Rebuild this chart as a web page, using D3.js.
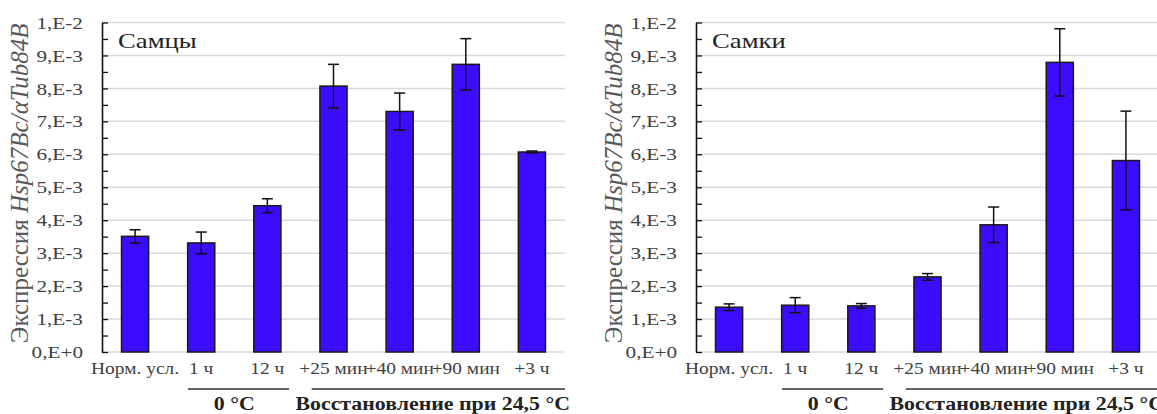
<!DOCTYPE html>
<html>
<head>
<meta charset="utf-8">
<script src="https://cdn.jsdelivr.net/npm/d3@7"></script>
<style>
  body { margin: 0; background: #fff; }
</style>
</head>
<body>
<div id="chart"></div>
<script>
// data (values in units of 1E-3)
const categories = ["Норм. усл.", "1 ч", "12 ч", "+25 мин", "+40 мин", "+90 мин", "+3 ч"];
const males = [3.51, 3.31, 4.44, 8.07, 7.30, 8.73, 6.07];
const malesErr = [0.20, 0.33, 0.21, 0.66, 0.56, 0.78, 0.03];
const females = [1.36, 1.42, 1.40, 2.28, 3.86, 8.79, 5.81];
const femalesErr = [0.10, 0.23, 0.07, 0.10, 0.54, 1.02, 1.50];
const yTickValues = [0, 1, 2, 3, 4, 5, 6, 7, 8, 9, 10];
const yTickLabels = ["0,E+0", "1,E-3", "2,E-3", "3,E-3", "4,E-3", "5,E-3", "6,E-3", "7,E-3", "8,E-3", "9,E-3", "1,E-2"];
const groupLabels = ["0 °C", "Восстановление при 24,5 °C"];
const groupFirst = [1, 3];
const groupLast = [2, 6];

const W = 1157, H = 414;
const plotW = 463, plotH = 329.5, plotTop = 22.5;
const barColor = "#3c0cff";
const FONT = "'Liberation Serif', 'Times New Roman', 'DejaVu Serif', 'Noto Serif', serif";

const svg = d3.select("#chart").append("svg")
  .attr("width", W)
  .attr("height", H)
  .style("font-family", FONT);

// calibrate: "Норм. усл." at 16px is about 88px wide in the picture
const probe = svg.append("text").style("font-family", FONT).style("font-size", "16px").text("Норм. усл.");
const stretch = 88 / probe.node().getComputedTextLength();
probe.remove();

function panel(left, title, values, errs) {
  const g = svg.append("g").attr("transform", "translate(" + left + "," + plotTop + ")");

  const x = d3.scaleBand().domain(categories).range([0, plotW])
    .paddingInner(0.59).paddingOuter(0.295);
  const y = d3.scaleLinear().domain([0, 10]).range([plotH, 0]);
  const step = x.step();

  // gridlines
  g.append("g")
    .selectAll("line")
    .data(yTickValues)
    .join("line")
    .attr("x1", 0).attr("x2", plotW)
    .attr("y1", d => y(d)).attr("y2", d => y(d))
    .attr("stroke", "#d9d9d9")
    .attr("stroke-width", 1.5);

  // minor ticks
  const minor = g.append("g")
    .call(d3.axisLeft(y).tickValues(d3.range(0.5, 10, 1)).tickSize(-6).tickFormat(""));
  minor.select(".domain").remove();
  minor.selectAll(".tick line").attr("stroke", "#111").attr("stroke-width", 1.3);

  // y axis
  const yAxis = g.append("g")
    .call(d3.axisLeft(y).tickValues(yTickValues).tickSizeInner(-6).tickSizeOuter(0)
      .tickPadding(19).tickFormat((d, i) => yTickLabels[i]));
  yAxis.attr("font-family", null).attr("font-size", null);
  yAxis.select(".domain").attr("stroke", "#111").attr("stroke-width", 1.6);
  yAxis.selectAll(".tick line").attr("stroke", "#111").attr("stroke-width", 1.3);
  yAxis.selectAll(".tick text")
    .attr("class", "stretch")
    .style("font-family", FONT)
    .style("font-size", "17.5px")
    .attr("fill", "#404040");

  // bars
  g.append("g")
    .selectAll("rect")
    .data(values)
    .join("rect")
    .attr("x", (d, i) => x(categories[i]))
    .attr("y", d => y(d))
    .attr("width", x.bandwidth())
    .attr("height", d => y(0) - y(d))
    .attr("fill", barColor)
    .attr("stroke", "#1a1a1a")
    .attr("stroke-width", 1.5);

  // error bars
  const eb = g.append("g").attr("stroke", "#111").attr("stroke-width", 1.5);
  values.forEach((v, i) => {
    const cx = x(categories[i]) + x.bandwidth() / 2;
    const e = errs[i];
    eb.append("line").attr("x1", cx).attr("x2", cx).attr("y1", y(v + e)).attr("y2", y(v - e));
    eb.append("line").attr("x1", cx - 5.5).attr("x2", cx + 5.5).attr("y1", y(v + e)).attr("y2", y(v + e));
    eb.append("line").attr("x1", cx - 5.5).attr("x2", cx + 5.5).attr("y1", y(v - e)).attr("y2", y(v - e));
  });

  // category labels
  g.append("g")
    .selectAll("text")
    .data(categories)
    .join("text")
    .attr("class", "stretch")
    .attr("x", d => x(d) + x.bandwidth() / 2)
    .attr("y", plotH + 21.5)
    .attr("text-anchor", "middle")
    .style("font-family", FONT)
    .style("font-size", "16px")
    .attr("fill", "#404040")
    .text(d => d);

  // group lines and labels
  groupLabels.forEach((label, k) => {
    const a = groupFirst[k], b = groupLast[k];
    const x0 = a * step + (k === 0 ? step * 0.3 : step * 0.17);
    const x1 = (b + 1) * step - (k === 0 ? step * 0.17 : 0);
    g.append("line")
      .attr("x1", x0).attr("x2", x1)
      .attr("y1", plotH + 37).attr("y2", plotH + 37)
      .attr("stroke", "#333").attr("stroke-width", 1.5);
    g.append("text")
      .attr("class", "stretch")
      .attr("x", (a * step + (b + 1) * step) / 2)
      .attr("y", plotH + 58)
      .attr("text-anchor", "middle")
      .style("font-family", FONT)
      .style("font-size", "18px")
      .style("font-weight", "bold")
      .attr("fill", "#222")
      .text(label);
  });

  // panel title
  g.append("text")
    .attr("class", "stretch")
    .attr("x", 16)
    .attr("y", 25.5)
    .style("font-family", FONT)
    .style("font-size", "22px")
    .attr("fill", "#222")
    .text(title);

  // y axis title, sized so it runs about 320px
  const yt = g.append("text")
    .attr("transform", "translate(-74," + (plotH / 2 - 4) + ") rotate(-90)")
    .attr("text-anchor", "middle")
    .style("font-family", FONT)
    .style("font-size", "22px")
    .attr("fill", "#595959");
  yt.append("tspan").text("Экспрессия ");
  yt.append("tspan").style("font-style", "italic").text("Hsp67Bc/αTub84B");
  const len = yt.node().getComputedTextLength();
  yt.style("font-size", (22 * 320 / len) + "px");
}

panel(102, "Самцы", males, malesErr);
panel(696, "Самки", females, femalesErr);

// the source picture is wider than normal type, so widen horizontal text
svg.selectAll("text.stretch").each(function () {
  const len = this.getComputedTextLength();
  d3.select(this).attr("textLength", len * stretch).attr("lengthAdjust", "spacingAndGlyphs");
});
</script>
</body>
</html>
